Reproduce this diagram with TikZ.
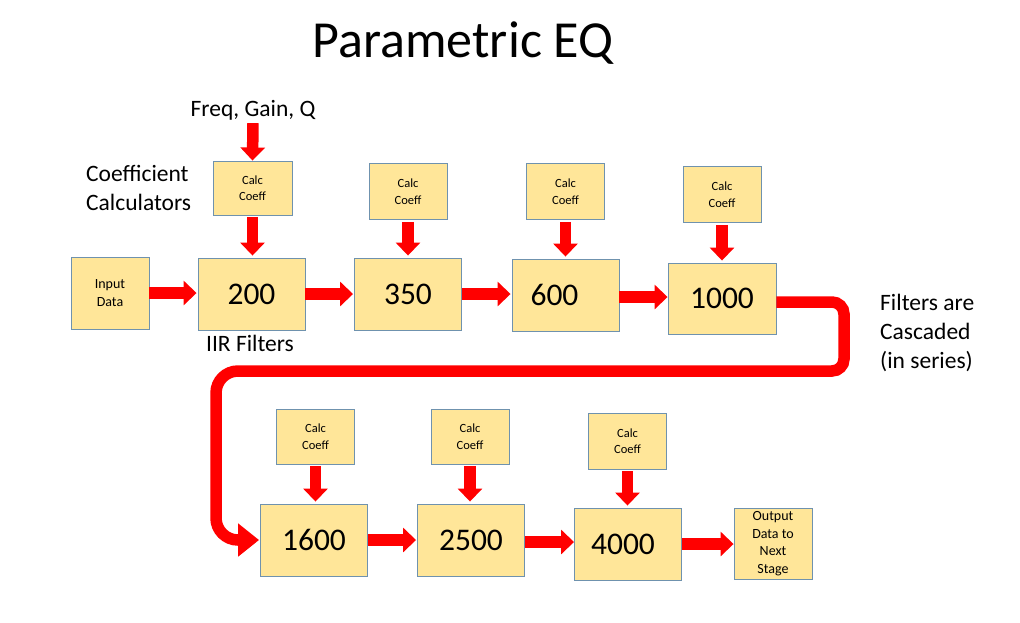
\documentclass[tikz,border=0pt]{standalone}
\usepackage{fontspec}
\setmainfont{Carlito}
\usetikzlibrary{arrows.meta}
\definecolor{boxfill}{HTML}{FFE699}
\definecolor{boxline}{HTML}{6F92AE}
\definecolor{flowred}{HTML}{FF0000}
\tikzset{
  blk/.style={draw=boxline, fill=boxfill, line width=0.9pt, inner sep=0pt, align=center},
  calcbox/.style={blk, minimum width=78pt, minimum height=56pt, font=\fontsize{12.5}{16.5}\selectfont},
  filtbox/.style={blk, minimum width=107pt, minimum height=72pt, font=\fontsize{31.5}{36}\selectfont},
  iobox/.style={blk, minimum width=78pt, minimum height=72pt, font=\fontsize{14}{17.5}\selectfont},
  lbl/.style={inner sep=0pt, font=\fontsize{23.5}{29}\selectfont},
  flow/.style={draw=flowred, line width=11.5pt, -{Triangle[width=24pt,length=13pt]}},
  loopflow/.style={draw=flowred, line width=11.5pt, -{Triangle[width=32pt,length=21pt]}}
}
\begin{document}
\begin{tikzpicture}[x=1pt,y=-1pt]
\useasboundingbox (0,0) rectangle (1020,622);
% title and labels
\node[inner sep=0pt, font=\fontsize{52}{60}\selectfont] (title) at (463,43) {Parametric EQ};
\node[lbl] (freq) at (253,110) {Freq, Gain, Q};
\node[lbl, align=left, anchor=west] (coef) at (86,188) {Coefficient\\Calculators};
\node[lbl] (iir) at (250,343) {IIR Filters};
\node[lbl, align=left, anchor=west] (casc) at (880,333) {Filters are\\Cascaded\\(in series)};
% row 1
\node[iobox] (in) at (110,293) {Input\\Data};
\node[filtbox] (f200) at (251.5,294) {200};
\node[filtbox] (f350) at (408,294) {350};
\node[filtbox] (f600) at (565.5,295) {600\hspace*{22pt}};
\node[filtbox, minimum width=108pt, minimum height=71pt] (f1000) at (722,298.5) {1000};
\node[calcbox, minimum height=54pt, minimum width=79pt] (c1) at (252.5,188) {Calc\\Coeff};
\node[calcbox] (c2) at (408,191.5) {Calc\\Coeff};
\node[calcbox] (c3) at (565.5,191.5) {Calc\\Coeff};
\node[calcbox] (c4) at (722,194.5) {Calc\\Coeff};
% row 2
\node[filtbox] (f1600) at (314,540) {1600};
\node[filtbox] (f2500) at (471,540) {2500};
\node[filtbox] (f4000) at (628,544) {4000\hspace*{10pt}};
\node[iobox, minimum height=71pt] (out) at (773,543.5) {Output\\Data to\\Next\\Stage};
\node[calcbox, minimum height=55pt] (c5) at (315.5,436.5) {Calc\\Coeff};
\node[calcbox, minimum height=55pt] (c6) at (470,436.5) {Calc\\Coeff};
\node[calcbox] (c7) at (627.5,441) {Calc\\Coeff};
% input arrow
\draw[flow] ([yshift=-3pt]freq.south) -- (c1.north);
% coefficient arrows
\draw[flow, shorten <=2pt, shorten >=2pt] (c1.south) -- (c1.south |- f200.north);
\draw[flow, shorten <=2pt, shorten >=2pt] (c2.south) -- (c2.south |- f350.north);
\draw[flow, shorten <=2pt, shorten >=2pt] (c3.south) -- (c3.south |- f600.north);
\draw[flow, shorten <=2pt, shorten >=2pt] (c4.south) -- (c4.south |- f1000.north);
\draw[flow, shorten <=2pt, shorten >=2pt] (c5.south) -- (c5.south |- f1600.north);
\draw[flow, shorten <=2pt, shorten >=2pt] (c6.south) -- (c6.south |- f2500.north);
\draw[flow, shorten <=2pt, shorten >=2pt] (c7.south) -- (c7.south |- f4000.north);
% data flow
\draw[flow, shorten >=1pt] (in.east) -- (in.east -| f200.west);
\draw[flow, shorten >=1pt] (f200.east) -- (f200.east -| f350.west);
\draw[flow, shorten >=1pt] (f350.east) -- (f350.east -| f600.west);
\draw[flow] ([yshift=-2pt]f600.east) -- ([yshift=-2pt]f600.east -| f1000.west);
\draw[flow, shorten >=1pt] (f1600.east) -- (f1600.east -| f2500.west);
\draw[flow] ([yshift=-2pt]f2500.east) -- ([yshift=-2pt]f2500.east -| f4000.west);
\draw[flow] (f4000.east) -- (f4000.east -| out.west);
% cascade loop
\coordinate (lp1) at (844,302);
\coordinate (lp2) at (844,371);
\coordinate (lp3) at (216,371);
\coordinate (lp4) at (216,540);
\draw[loopflow, shorten >=1pt] (f1000.east |- lp1) [rounded corners=12pt] -- (lp1) -- (lp2) [rounded corners=22pt] -- (lp3) -- (lp4) [sharp corners] -- (f1600.west);
\end{tikzpicture}
\end{document}
